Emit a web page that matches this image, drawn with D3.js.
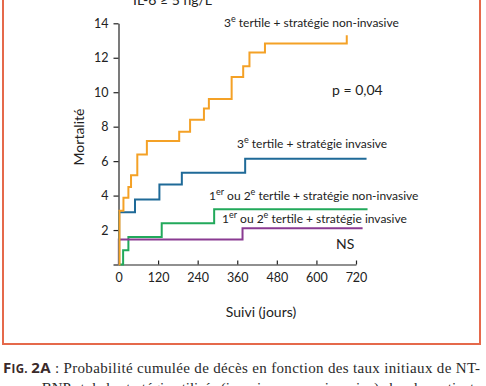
<!DOCTYPE html>
<html><head><meta charset="utf-8">
<script src="https://cdn.jsdelivr.net/npm/d3@7"></script>
<style>
html,body{margin:0;padding:0;background:#fff;}
svg{display:block;}
.lab{font-family:Lato,"Open Sans",sans-serif;fill:#222;}
.tick text{font-family:Lato,"Open Sans",sans-serif;font-size:12.5px;fill:#222;}
</style>
</head><body>
<svg id="c" width="486" height="386"></svg>
<script>
// ---- data ----
const xTicks = [0, 120, 240, 360, 480, 600, 720];
const yTicks = [0, 2, 4, 6, 8, 10, 12, 14];
const orangeDays = [0, 3, 15, 30, 38, 57, 86, 184, 217, 259, 274, 343, 378, 397, 444, 692];
const orangeVals = [0, 3.12, 3.88, 4.5, 5.18, 6.38, 7.17, 7.7, 8.4, 9.05, 9.6, 10.88, 11.5, 12.3, 12.83, 13.3];
const blueDays = [0, 2, 50, 124, 192, 384, 752];
const blueVals = [0, 3.04, 3.78, 4.65, 5.33, 6.14, 6.14];
const greenDays = [0, 14, 30, 131, 290, 755];
const greenVals = [0, 0.83, 1.6, 2.4, 3.21, 3.21];
const purpleDays = [0, 1, 376, 740];
const purpleVals = [0, 1.45, 2.11, 2.11];

const svg = d3.select("#c");
const x = d3.scaleLinear().domain([0, 720]).range([118.5, 356]);
const y = d3.scaleLinear().domain([0, 14]).range([264.5, 23.3]);

// frame
svg.append("rect").attr("x", 3).attr("y", -20).attr("width", 477).attr("height", 364)
  .attr("fill", "none").attr("stroke", "#e5694b").attr("stroke-width", 2);

// cut-off header from chart above
svg.append("text").attr("class", "lab").attr("x", 97).attr("y", -2).attr("font-size", 13).text("14");
svg.append("text").attr("class", "lab").attr("x", 133).attr("y", 5).attr("font-size", 14).text("IL-6 ≥ 5 ng/L");

// axes
const ax = svg.append("g").attr("transform", `translate(0,${y(0)})`)
  .call(d3.axisBottom(x).tickValues(xTicks).tickSizeInner(-4).tickSizeOuter(0).tickPadding(9));
ax.selectAll(".tick text").attr("dy", "0.71em");
const ay = svg.append("g").attr("transform", `translate(${x(0)},0)`)
  .call(d3.axisLeft(y).tickValues(yTicks).tickSizeInner(5).tickSizeOuter(0).tickPadding(5)
    .tickFormat(d => d === 0 ? "" : d));
svg.selectAll(".domain").attr("stroke", "#222").attr("stroke-width", 1.2);
svg.selectAll(".tick line").attr("stroke", "#222").attr("stroke-width", 1.2);

// curves
const line = d3.line().x(d => x(d[0])).y(d => y(d[1])).curve(d3.curveStepAfter);
const series = [
  {days: greenDays, vals: greenVals, color: "#22a95b"},
  {days: purpleDays, vals: purpleVals, color: "#8a3b92"},
  {days: blueDays, vals: blueVals, color: "#1f6a98"},
  {days: orangeDays, vals: orangeVals, color: "#f4a126"}
];
series.forEach(s => {
  svg.append("path").datum(s.days.map((d, i) => [d, s.vals[i]]))
    .attr("d", line).attr("fill", "none").attr("stroke", s.color).attr("stroke-width", 2);
});

// labels with superscripts
function supLabel(xp, yp, parts) {
  const t = svg.append("text").attr("class", "lab").attr("x", xp).attr("y", yp).attr("font-size", 12);
  parts.forEach(p => {
    if (p.sup) t.append("tspan").attr("font-size", 9).attr("dy", -5).text(p.t);
    else t.append("tspan").attr("dy", p.after ? 5 : 0).text(p.t);
  });
  return t;
}
supLabel(224, 27, [{t: "3"}, {t: "e", sup: true}, {t: " tertile + stratégie non-invasive", after: true}]);
supLabel(237, 148, [{t: "3"}, {t: "e", sup: true}, {t: " tertile + stratégie invasive", after: true}]);
supLabel(209, 200, [{t: "1"}, {t: "er", sup: true}, {t: " ou 2", after: true}, {t: "e", sup: true}, {t: " tertile + stratégie non-invasive", after: true}]);
supLabel(222, 223, [{t: "1"}, {t: "er", sup: true}, {t: " ou 2", after: true}, {t: "e", sup: true}, {t: " tertile + stratégie invasive", after: true}]);

svg.append("text").attr("class", "lab").attr("x", 332).attr("y", 95).attr("font-size", 14).text("p = 0,04");
svg.append("text").attr("class", "lab").attr("x", 336).attr("y", 249).attr("font-size", 14).text("NS");

// axis titles
svg.append("text").attr("class", "lab").attr("font-size", 14).attr("text-anchor", "middle")
  .attr("transform", "translate(84,137) rotate(-90)").text("Mortalité");
svg.append("text").attr("class", "lab").attr("font-size", 14).attr("text-anchor", "middle")
  .attr("x", 261).attr("y", 317).text("Suivi (jours)");

// caption
const cap = svg.append("text").attr("x", 3).attr("y", 373).attr("font-size", 15)
  .attr("font-family", "'Liberation Serif','DejaVu Serif',serif").attr("fill", "#2a2a2a")
  .attr("textLength", 477).attr("lengthAdjust", "spacing");
cap.append("tspan").attr("font-family", "'Open Sans',sans-serif").attr("font-weight", "bold")
  .attr("fill", "#3a2a2a").text("F");
cap.append("tspan").attr("font-family", "'Open Sans',sans-serif").attr("font-weight", "bold")
  .attr("fill", "#3a2a2a").attr("font-size", 11.5).text("IG. ");
cap.append("tspan").attr("font-family", "'Open Sans',sans-serif").attr("font-weight", "bold")
  .attr("fill", "#3a2a2a").text("2A");
cap.append("tspan").text(" : Probabilité cumulée de décès en fonction des taux initiaux de NT-");
svg.append("text").attr("x", 22).attr("y", 393).attr("font-size", 15)
  .attr("font-family", "'Liberation Serif','DejaVu Serif',serif").attr("fill", "#2a2a2a")
  .attr("textLength", 458).attr("lengthAdjust", "spacing")
  .text("proBNP et de la stratégie utilisée (invasive ou non-invasive) chez les patients");
</script>
</body></html>
